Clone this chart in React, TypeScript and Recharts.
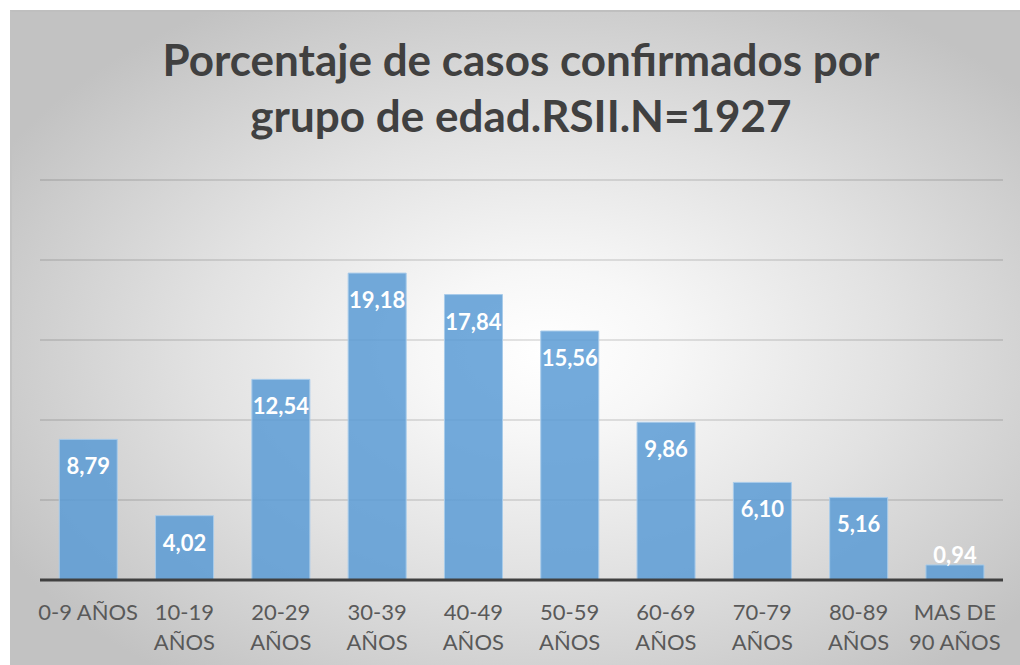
import * as React from "react"
import { BarChart, Bar, XAxis, YAxis, CartesianGrid, LabelList } from "recharts"

const categories = [
  "0-9 AÑOS",
  "10-19\nAÑOS",
  "20-29\nAÑOS",
  "30-39\nAÑOS",
  "40-49\nAÑOS",
  "50-59\nAÑOS",
  "60-69\nAÑOS",
  "70-79\nAÑOS",
  "80-89\nAÑOS",
  "MAS DE\n90 AÑOS",
]
const percentages = [8.79, 4.02, 12.54, 19.18, 17.84, 15.56, 9.86, 6.1, 5.16, 0.94]
const yTicks = [0, 5, 10, 15, 20, 25]
const titleLines = ["Porcentaje de casos confirmados por", "grupo de edad.RSII.N=1927"]

const data = categories.map((name, i) => ({ name, value: percentages[i] }))

const FONT = "Lato, 'Open Sans', sans-serif"

function AgeTick(props: any) {
  const { x, y, payload } = props
  const lines = String(payload.value).split("\n")
  return (
    <text x={x} y={y} textAnchor="middle" fill="#595959" fontFamily={FONT} fontSize={22}>
      {lines.map((l, i) => (
        <tspan key={i} x={x} y={y + 40 + i * 30}>
          {l}
        </tspan>
      ))}
    </text>
  )
}

function ValueLabel(props: any) {
  const { x, y, width, height, value } = props
  const base = y + height
  const ty = Math.min(y + 35, base - 17)
  return (
    <text
      x={x + width / 2}
      y={ty}
      textAnchor="middle"
      fill="#ffffff"
      fontFamily={FONT}
      fontWeight={700}
      fontSize={22}
    >
      {Number(value).toFixed(2).replace(".", ",")}
    </text>
  )
}

export default function App() {
  return (
    <div style={{ position: "absolute", left: 0, top: 0, width: 1020, height: 665, overflow: "hidden", background: "#fff" }}>
      <div
        style={{
          position: "absolute",
          left: 10,
          top: 10,
          width: 1010,
          height: 655,
          borderTop: "2px solid #bfbfbf",
          borderLeft: "2px solid #c2c2c2",
          boxSizing: "border-box",
          background:
            "radial-gradient(ellipse 62% 62% at 53% 52%, #ffffff 0%, #f7f7f7 20%, #e2e2e2 55%, #cdcdcd 85%, #c2c2c2 100%)",
        }}
      />
      <div style={{ position: "absolute", left: 0, top: 0 }}>
        <BarChart
          width={1020}
          height={665}
          data={data}
          margin={{ top: 180, right: 17, bottom: 0, left: 40 }}
          barCategoryGap="20%"
        >
          <CartesianGrid vertical={false} stroke="#000000" strokeOpacity={0.14} strokeWidth={1.5} />
          <XAxis
            dataKey="name"
            height={85}
            interval={0}
            tick={<AgeTick />}
            tickLine={false}
            tickSize={0}
            tickMargin={0}
            axisLine={{ stroke: "#404040", strokeWidth: 3 }}
          />
          <YAxis hide domain={[0, 25]} ticks={yTicks} />
          <Bar
            dataKey="value"
            fill="#5B9BD5"
            fillOpacity={0.85}
            stroke="#a8cbea"
            strokeWidth={1}
            isAnimationActive={false}
          >
            <LabelList dataKey="value" content={<ValueLabel />} />
          </Bar>
        </BarChart>
      </div>
      <svg width={1020} height={665} style={{ position: "absolute", left: 0, top: 0, pointerEvents: "none" }}>
        {titleLines.map((t, i) => (
          <text
            key={i}
            x={521}
            y={76 + i * 56}
            textAnchor="middle"
            fill="#404040"
            fontFamily={FONT}
            fontWeight={700}
            fontSize={44}
          >
            {t}
          </text>
        ))}
      </svg>
    </div>
  )
}
